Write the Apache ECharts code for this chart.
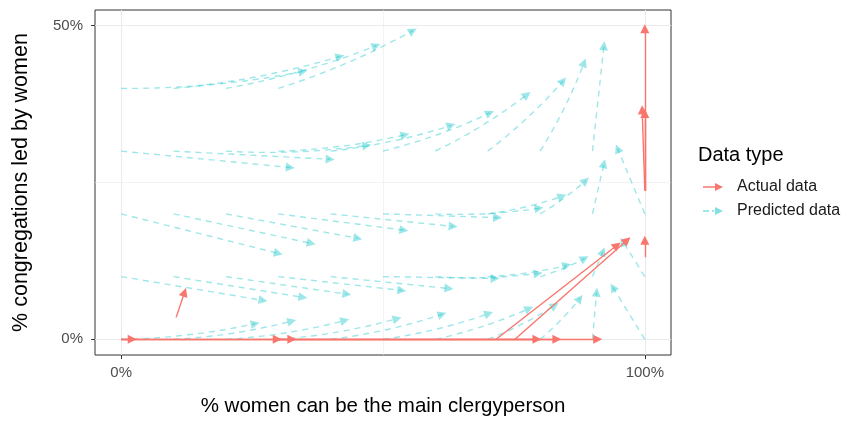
<!DOCTYPE html>
<html><head><meta charset="utf-8">
<script src="https://cdn.jsdelivr.net/npm/echarts@6/dist/echarts.min.js"></script>
<style>html,body{margin:0;padding:0;background:#fff}#c{width:845px;height:424px}</style>
</head><body><div id="c"></div>
<script>
// Axis ticks and grid
const xTicks = [0, 1];
const yTicks = [0, 0.5];
const xMinor = [0.5];
const yMinor = [0.25];

// Predicted data: start and end of each arrow
const predFrom = [
  [0,0],[0.1,0],[0.2,0],[0.3,0],[0.4,0],[0.5,0],[0.6,0],[0.7,0],[0.8,0],[0.9,0],[1,0],
  [0,0.1],[0.1,0.1],[0.2,0.1],[0.3,0.1],[0.4,0.1],[0.5,0.1],[0.6,0.1],[0.7,0.1],[0.8,0.1],[0.9,0.1],[1,0.1],
  [0,0.2],[0.1,0.2],[0.2,0.2],[0.3,0.2],[0.4,0.2],[0.5,0.2],[0.6,0.2],[0.7,0.2],[0.8,0.2],[0.9,0.2],[1,0.2],
  [0,0.3],[0.1,0.3],[0.2,0.3],[0.3,0.3],[0.4,0.3],[0.5,0.3],[0.6,0.3],[0.7,0.3],[0.8,0.3],[0.9,0.3],
  [0,0.4],[0.1,0.4],[0.2,0.4],[0.3,0.4]
];
const predTo = [
  [0.256,0.025],[0.326,0.029],[0.427,0.030],[0.527,0.033],[0.613,0.040],[0.702,0.041],[0.779,0.049],[0.828,0.054],[0.876,0.065],[0.908,0.075],[0.939,0.083],
  [0.271,0.062],[0.347,0.067],[0.431,0.072],[0.536,0.078],[0.626,0.081],[0.714,0.097],[0.796,0.105],[0.851,0.118],[0.885,0.129],[0.920,0.140],[0.958,0.156],
  [0.300,0.137],[0.363,0.153],[0.452,0.161],[0.540,0.174],[0.634,0.180],[0.719,0.194],[0.798,0.209],[0.842,0.228],[0.887,0.253],[0.922,0.280],[0.948,0.304],
  [0.323,0.274],[0.399,0.287],[0.469,0.309],[0.542,0.326],[0.630,0.341],[0.704,0.361],[0.775,0.390],[0.844,0.412],[0.884,0.441],[0.922,0.468],
  [0.347,0.427],[0.418,0.451],[0.487,0.468],[0.557,0.492]
];

// Actual data: start and end of each arrow
const actFrom = [
  [0,0],[0,0],[0,0],[0.3,0],[0.3,0],[0.3,0],
  [0.105,0.035],[0.716,0],[0.752,0],
  [1,0.131],[1,0.237],[1,0.237],[1,0.237]
];
const actTo = [
  [0.021,0],[0.298,0],[0.326,0],[0.794,0],[0.832,0],[0.910,0],
  [0.121,0.075],[0.947,0.150],[0.966,0.158],
  [1,0.158],[1,0.495],[0.995,0.366],[1,0.360]
];

const RED = '#F8766D';
const CYAN = 'rgba(0,191,196,0.38)';
const FONT = 'Liberation Sans, Arial, sans-serif';
const pct = v => Math.round(v * 100) + '%';

function arrows(from, to, bend) {
  return from.map((p, i) => {
    const dx = to[i][0] - p[0], dy = to[i][1] - p[1];
    return {
      coords: [p, to[i]],
      lineStyle: { curveness: bend && dy > 0 && dx > 0.04 ? -0.05 : 0 }
    };
  });
}

const gridLines = [].concat(
  xTicks.map(v => ({ xAxis: v, lineStyle: { width: 1.1 } })),
  xMinor.map(v => ({ xAxis: v, lineStyle: { width: 0.6 } })),
  yTicks.map(v => ({ yAxis: v, lineStyle: { width: 1.1 } })),
  yMinor.map(v => ({ yAxis: v, lineStyle: { width: 0.6 } }))
);

const iconActual = 'path://M0,4.2L15,4.2L15,5.8L0,5.8Z M12,1L20,5L12,9Z';
const iconPred = 'path://M0,4.2L6,4.2L6,5.8L0,5.8Z M9,4.2L11,4.2L11,5.8L9,5.8Z M12,1L20,5L12,9Z';

const chart = echarts.init(document.getElementById('c'), null, { renderer: 'canvas' });
chart.setOption({
  animation: false,
  backgroundColor: '#fff',
  textStyle: { fontFamily: FONT },
  title: {
    text: 'Data type', left: 698, top: 145, padding: 0,
    textStyle: { fontSize: 20, fontWeight: 'normal', color: '#000', fontFamily: FONT }
  },
  legend: {
    orient: 'vertical', left: 703, top: 179, padding: 0,
    itemWidth: 20, itemHeight: 10, itemGap: 8, selectedMode: false,
    textStyle: { fontSize: 16, color: '#1a1a1a', lineHeight: 16, padding: [0, 0, 0, 9], fontFamily: FONT },
    data: [
      { name: 'Actual data', icon: iconActual, itemStyle: { color: RED, borderWidth: 0 } },
      { name: 'Predicted data', icon: iconPred, itemStyle: { color: 'rgba(0,191,196,0.5)', borderWidth: 0 } }
    ]
  },
  grid: {
    left: 95, top: 10, width: 576, height: 345,
    show: true, borderColor: '#333333', borderWidth: 1, backgroundColor: 'transparent',
    containLabel: false, outerBoundsMode: 'none'
  },
  xAxis: {
    type: 'value', min: -0.05, max: 1.05, position: 'bottom',
    axisLine: { show: false, onZero: false },
    splitLine: { show: false },
    axisTick: { show: true, customValues: xTicks, length: 4, lineStyle: { color: '#333333', width: 1 } },
    axisLabel: { customValues: xTicks, formatter: pct, color: '#4D4D4D', fontSize: 15, margin: 10, fontFamily: FONT },
    name: '% women can be the main clergyperson',
    nameLocation: 'middle', nameGap: 41,
    nameTextStyle: { fontSize: 20.5, color: '#000', fontFamily: FONT }
  },
  yAxis: {
    type: 'value', min: -0.025, max: 0.525, position: 'left',
    axisLine: { show: false, onZero: false },
    splitLine: { show: false },
    axisTick: { show: true, customValues: yTicks, length: 4, lineStyle: { color: '#333333', width: 1 } },
    axisLabel: { customValues: yTicks, formatter: pct, color: '#4D4D4D', fontSize: 15, margin: 12, fontFamily: FONT },
    name: '% congregations led by women',
    nameLocation: 'middle', nameGap: 63,
    nameTextStyle: { fontSize: 21.5, color: '#000', fontFamily: FONT }
  },
  series: [
    {
      type: 'line', data: [], silent: true, z: 0,
      markLine: {
        silent: true, z: 0, zlevel: 0, symbol: ['none', 'none'], label: { show: false },
        lineStyle: { color: '#EBEBEB', type: 'solid' },
        emphasis: { disabled: true },
        data: gridLines
      }
    },
    {
      name: 'Predicted data', type: 'lines', coordinateSystem: 'cartesian2d', z: 2,
      symbol: ['none', 'triangle'], symbolSize: 9,
      lineStyle: { color: CYAN, width: 1.4, type: [6, 5], opacity: 1 },
      data: arrows(predFrom, predTo, true)
    },
    {
      name: 'Actual data', type: 'lines', coordinateSystem: 'cartesian2d', z: 3,
      symbol: ['none', 'triangle'], symbolSize: 9,
      lineStyle: { color: RED, width: 1.4, type: 'solid', opacity: 1 },
      data: arrows(actFrom, actTo, false)
    }
  ]
});
</script>
</body></html>
